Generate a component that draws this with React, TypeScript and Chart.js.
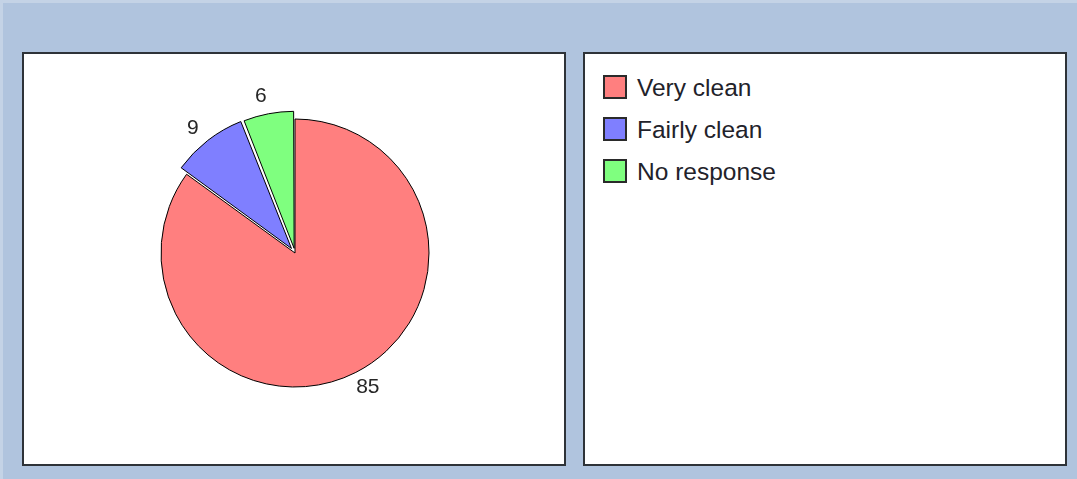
import React, { useEffect, useRef } from "react";
import { Chart, registerables } from "chart.js";

Chart.register(...registerables);

const categories: string[] = ["Very clean", "Fairly clean", "No response"];
const values: number[] = [85, 9, 6];
const sliceColors: string[] = ["#FF7F7F", "#7F7FFF", "#7FFF7F"];
const explode: number[] = [0, 23, 19];

// Chart.js translates an arc by offset/4 * (2 - sin(circumference))
function arcShift(offset: number, circumference: number): number {
  const fix = 1 - Math.sin(Math.min(Math.PI, circumference || 0));
  return (offset / 4) * (1 + fix);
}

const labelPlugin = {
  id: "outerLabels",
  afterDatasetsDraw(chart: any) {
    const meta = chart.getDatasetMeta(0);
    const ctx = chart.ctx;
    ctx.save();
    ctx.font = "21px 'Liberation Sans', Arial, sans-serif";
    ctx.fillStyle = "#262626";
    ctx.textAlign = "center";
    ctx.textBaseline = "middle";
    meta.data.forEach((arc: any, i: number) => {
      const p = arc.getProps(["x", "y", "startAngle", "endAngle", "outerRadius", "circumference"], true);
      const mid = (p.startAngle + p.endAngle) / 2 - 0.025;
      const r = p.outerRadius + 19 + arcShift(explode[i] || 0, p.circumference);
      ctx.fillText(String(values[i]), p.x + Math.cos(mid) * r, p.y + Math.sin(mid) * r);
    });
    ctx.restore();
  },
};

export default function App() {
  const canvasRef = useRef<HTMLCanvasElement | null>(null);

  useEffect(() => {
    document.body.style.margin = "0";
    const canvas = canvasRef.current;
    if (!canvas) return;
    const chart = new Chart(canvas, {
      type: "pie",
      data: {
        labels: categories,
        datasets: [
          {
            data: values,
            backgroundColor: sliceColors,
            borderColor: "#000000",
            borderWidth: 1,
            offset: explode,
            radius: 134,
          } as any,
        ],
      },
      options: {
        animation: false,
        responsive: false,
        devicePixelRatio: 1,
        layout: { padding: { left: 2, right: 0, top: 0, bottom: 12 } },
        plugins: {
          legend: { display: false },
          tooltip: { enabled: false },
        },
      },
      plugins: [labelPlugin],
    });
    return () => chart.destroy();
  }, []);

  const panelBase: React.CSSProperties = {
    position: "absolute",
    top: 49,
    height: 410,
    background: "#FFFFFF",
    border: "2px solid #2E3338",
  };

  return (
    <div
      style={{
        position: "fixed",
        left: 0,
        top: 0,
        width: 1077,
        height: 479,
        background: "#B0C4DE",
        boxSizing: "border-box",
        borderTop: "3px solid #C4D3E6",
        borderLeft: "3px solid #C4D3E6",
        overflow: "hidden",
      }}
    >
      <div style={{ ...panelBase, left: 19, width: 540 }}>
        <canvas ref={canvasRef} width={540} height={410} style={{ display: "block" }} />
      </div>
      <div style={{ ...panelBase, left: 580, width: 480 }}>
        {categories.map((c, i) => (
          <div
            key={c}
            style={{
              position: "absolute",
              left: 18,
              top: 21 + i * 42,
              height: 24,
              display: "flex",
              alignItems: "center",
              whiteSpace: "nowrap",
            }}
          >
            <div
              style={{
                width: 20,
                height: 20,
                background: sliceColors[i],
                border: "2px solid #2A2A2A",
              }}
            />
            <span
              style={{
                marginLeft: 10,
                fontFamily: "'Liberation Sans', Arial, sans-serif",
                fontSize: 24.5,
                color: "#22222A",
                lineHeight: "24px",
                position: "relative",
                top: 1,
              }}
            >
              {c}
            </span>
          </div>
        ))}
      </div>
    </div>
  );
}
